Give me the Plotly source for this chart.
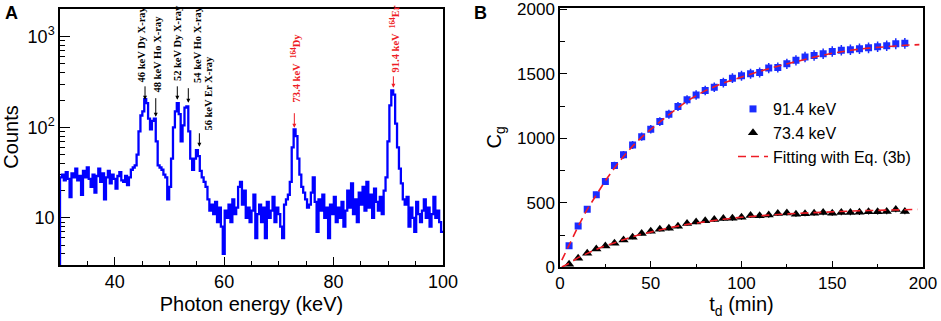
import numpy as np
import plotly.graph_objects as go

# ---------------- Panel A: gamma spectrum ----------------
spec_start = 29.65      # first bin (below the visible range)
spec_binw = 0.35        # keV per bin
spec_counts = [1,
    28, 30, 26, 32, 27, 17, 31, 28, 35, 26,
    29, 18, 33, 28, 36, 27, 22, 30, 19, 29,
    35, 25, 31, 16, 28, 33, 24, 30, 27, 21,
    29, 32, 26, 25, 29, 23, 28, 34, 36, 38,
    50, 90, 135, 150, 205, 185, 125, 95, 118, 125,
    70, 38, 36, 34, 30, 28, 16, 22, 45, 100,
    150, 185, 140, 70, 105, 165, 170, 90, 45, 34,
    45, 56, 48, 33, 28, 25, 22, 16, 12, 14,
    11, 15, 9, 13, 8, 4, 12, 10, 14, 9,
    16, 11, 13, 22, 25, 14, 20, 10, 13, 9,
    12, 18, 6, 11, 14, 9, 13, 6, 15, 10,
    12, 17, 9, 13, 11, 8, 6, 14, 16, 18,
    25, 60, 95, 80, 45, 30, 22, 19, 16, 13,
    14, 19, 28, 15, 7, 16, 12, 18, 10, 13,
    6, 14, 11, 17, 9, 13, 10, 15, 8, 12,
    20, 13, 24, 11, 16, 9, 19, 14, 22, 12,
    25, 13, 18, 10, 21, 15, 12, 17, 11, 20,
    28, 70, 175, 255, 230, 110, 60, 35, 24, 16,
    14, 17, 8, 13, 10, 7, 15, 11, 9, 12,
    16, 10, 13, 8, 11, 17, 10, 12, 9, 7]

# peak labels: (text, text x keV, text bottom count, arrow x keV, arrow tip count, arrow length px, color)
peak_labels = [
    ("46 keV Dy X-ray", 44.94, 295, 45.54, 201, 15, "black"),
    ("48 keV Ho X-ray", 47.79, 229, 47.50, 131, 20, "black"),
    ("52 keV Dy X-ray", 51.44, 310, 51.44, 201, 15, "black"),
    ("54 keV Ho X-ray", 55.17, 295, 53.45, 187, 16, "black"),
    ("56 keV Er X-ray", 57.11, 87, 55.47, 61, 15, "black"),
    ("73.4 keV  <sup>164</sup>Dy", 72.96, 177, 72.83, 99, 16, "#ee1c25"),
    ("91.4 keV  <sup>164</sup>Er", 91.06, 380, 90.93, 273, 13, "#ee1c25"),
]

# ---------------- Panel B: growth curves ----------------
t_d = [5, 10, 15, 20, 25, 30, 35, 40, 45, 50, 55, 60, 65, 70, 75, 80, 85, 90, 95,
       100, 105, 110, 115, 120, 125, 130, 135, 140, 145, 150, 155, 160, 165, 170,
       175, 180, 185, 190]
c_914 = [168, 321, 451, 562, 666, 790, 872, 949, 1013, 1071, 1130, 1187, 1247, 1299,
         1337, 1371, 1397, 1433, 1467, 1485, 1501, 1511, 1545, 1550, 1578, 1605, 1631,
         1643, 1656, 1674, 1683, 1687, 1695, 1702, 1710, 1718, 1734, 1737]
e_914 = [13, 18, 21, 24, 26, 28, 30, 31, 32, 33, 34, 34, 35, 36, 37, 37, 37, 38, 38,
         39, 39, 39, 39, 39, 40, 40, 40, 41, 41, 41, 41, 41, 41, 41, 41, 41, 42, 42]
c_734 = [23, 70, 109, 142, 166, 186, 212, 233, 262, 280, 295, 302, 318, 340, 352, 362,
         370, 378, 380, 388, 402, 400, 405, 418, 422, 412, 416, 420, 425, 420, 425, 425,
         426, 430, 430, 432, 448, 432]
e_734 = [5, 8, 10, 12, 13, 14, 15, 15, 16, 17, 17, 17, 18, 18, 19, 19, 19, 19, 19, 20,
         20, 20, 20, 20, 21, 20, 20, 20, 21, 20, 21, 21, 21, 21, 21, 21, 21, 21]
t_fit_914 = [1, 5, 10, 15, 20, 25, 30, 35, 40, 45, 50, 60, 70, 80, 90, 100, 110, 120,
             130, 140, 150, 160, 170, 180, 190, 198]
c_fit_914 = [55, 172, 318, 450, 565, 672, 770, 860, 940, 1010, 1070, 1185, 1290, 1370,
             1430, 1478, 1520, 1560, 1597, 1630, 1660, 1683, 1700, 1712, 1722, 1727]
t_fit_734 = [1, 5, 10, 15, 20, 25, 30, 35, 40, 45, 50, 60, 70, 80, 90, 100, 110, 120,
             130, 140, 150, 160, 170, 180, 190, 197]
c_fit_734 = [3, 30, 75, 108, 140, 167, 192, 215, 237, 257, 275, 306, 333, 355, 373, 388,
             400, 410, 418, 425, 431, 436, 440, 444, 447, 449]

BLUE = "#1a2cff"
RED = "#ee1c25"
SANS = "Liberation Sans, Arial, sans-serif"
SERIF = "Liberation Serif, Times New Roman, serif"

FIG_W, FIG_H = 941, 321


def px(xpix):
    return xpix / FIG_W


def py(ypix):
    return min(1.0, max(0.0, 1 - ypix / FIG_H))


edges = spec_start + spec_binw * np.arange(len(spec_counts) + 1)
ys = list(spec_counts) + [spec_counts[-1]]

fig = go.Figure()
fig.add_trace(go.Scatter(x=edges, y=ys, mode="lines", line=dict(color="#0000ff", width=2.3, shape="hv"),
                         xaxis="x", yaxis="y", showlegend=False))

fig.add_trace(go.Scatter(x=t_d, y=c_914, mode="markers", name="91.4 keV",
                         marker=dict(symbol="square", size=7, color=BLUE),
                         error_y=dict(type="data", array=e_914, color=BLUE, thickness=1.5, width=0),
                         xaxis="x2", yaxis="y2"))
fig.add_trace(go.Scatter(x=t_d, y=c_734, mode="markers", name="73.4 keV",
                         marker=dict(symbol="triangle-up", size=9, color="black"),
                         error_y=dict(type="data", array=e_734, color="black", thickness=1.2, width=0),
                         xaxis="x2", yaxis="y2"))
fig.add_trace(go.Scatter(x=t_fit_914, y=c_fit_914, mode="lines", name="Fitting with Eq. (3b)",
                         line=dict(color=RED, width=1.6, dash="8px,5px"),
                         xaxis="x2", yaxis="y2"))
fig.add_trace(go.Scatter(x=t_fit_734, y=c_fit_734, mode="lines", showlegend=False,
                         line=dict(color=RED, width=1.6, dash="8px,5px"),
                         xaxis="x2", yaxis="y2"))

annotations = []
for text, tx, ty, axv, tipc, alen, col in peak_labels:
    annotations.append(dict(x=tx, y=np.log10(ty), xref="x", yref="y", text="<b>" + text + "</b>",
                            showarrow=False, textangle=-90, xanchor="center", yanchor="bottom",
                            font=dict(family=SERIF, size=10.5, color=col)))
    annotations.append(dict(x=axv, y=np.log10(tipc), xref="x", yref="y", text="", showarrow=True,
                            ax=0, ay=-alen, arrowhead=2, arrowsize=0.8, arrowwidth=1,
                            arrowcolor=col, standoff=0))
annotations.append(dict(x=px(3), y=py(13), xref="paper", yref="paper", text="<b>A</b>",
                        showarrow=False, xanchor="left", yanchor="middle",
                        font=dict(family=SANS, size=18, color="black")))
annotations.append(dict(x=px(472), y=py(13), xref="paper", yref="paper", text="<b>B</b>",
                        showarrow=False, xanchor="left", yanchor="middle",
                        font=dict(family=SANS, size=18, color="black")))

axis_common = dict(showline=True, linecolor="black", linewidth=1.5, mirror=True, showgrid=False,
                   zeroline=False, ticks="inside", tickcolor="black", automargin=False)

fig.update_layout(
    width=FIG_W, height=FIG_H, margin=dict(l=0, r=0, t=0, b=0, autoexpand=False),
    paper_bgcolor="white", plot_bgcolor="white",
    font=dict(family=SANS, color="black"),
    xaxis=dict(domain=[px(60), px(443)], range=[30, 100], anchor="y",
               tickvals=[40, 60, 80, 100], ticklen=8, tickwidth=1,
               minor=dict(ticks="inside", ticklen=4, dtick=5, tickcolor="black"),
               tickfont=dict(size=18), layer="below traces",
               title=dict(text="Photon energy (keV)", font=dict(size=20), standoff=6),
               **axis_common),
    yaxis=dict(domain=[py(265), py(9)], type="log", range=[0.48, 3.306], anchor="x",
               tickvals=[10, 100, 1000], ticktext=["10", "10<sup>2</sup>", "10<sup>3</sup>"],
               ticklen=10, tickwidth=1,
               minor=dict(ticks="inside", ticklen=5, tickcolor="black",
                          tickvals=[3, 4, 5, 6, 7, 8, 9, 20, 30, 40, 50, 60, 70, 80, 90,
                                    200, 300, 400, 500, 600, 700, 800, 900, 2000]),
               tickfont=dict(size=18), layer="below traces",
               title=dict(text="Counts", font=dict(size=20), standoff=12),
               **axis_common),
    xaxis2=dict(domain=[px(560), px(923)], range=[0, 200], anchor="y2",
                tickvals=[0, 50, 100, 150, 200], ticklen=7, tickwidth=1,
                minor=dict(ticks="inside", ticklen=4, dtick=25, tickcolor="black"),
                tickfont=dict(size=17),
                title=dict(text="t<sub>d</sub> (min)", font=dict(size=20), standoff=3),
                **axis_common),
    yaxis2=dict(domain=[py(267.3), py(7.5)], range=[0, 2015], anchor="x2",
                tickvals=[0, 500, 1000, 1500, 2000], ticklen=7, tickwidth=1,
                minor=dict(ticks="inside", ticklen=5, dtick=250, tickcolor="black"),
                tickfont=dict(size=17),
                title=dict(text="C<sub>g</sub>", font=dict(size=20), standoff=10),
                **axis_common),
    legend=dict(x=px(733), y=py(92), xanchor="left", yanchor="top",
                bgcolor="rgba(0,0,0,0)", font=dict(family=SANS, size=16)),
    annotations=annotations,
)

# remove the default 8px page margin so the figure fills the window exactly
fig.write_html("out.html", config={"displayModeBar": False},
               post_script="document.body.style.margin='0';")
